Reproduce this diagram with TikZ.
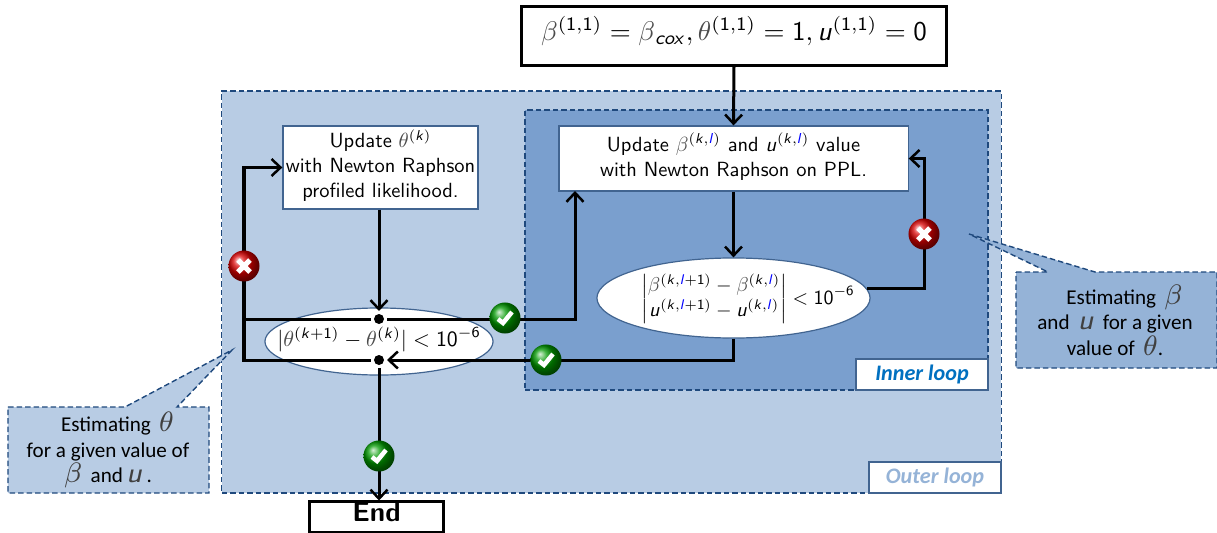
\documentclass[tikz,border=0pt]{standalone}
\usepackage{amsmath}
\usepackage{amssymb}
\usepackage{fontspec}
\usepackage{tikz}
\usetikzlibrary{arrows.meta,shapes.geometric}
\newfontfamily\cbfont{Carlito}
\DeclareMathAlphabet{\msf}{OT1}{cmss}{m}{n}
\DeclareMathAlphabet{\msl}{OT1}{cmss}{m}{sl}
\newcommand{\gbeta}{\textcolor{black!70}{\beta}}
\newcommand{\gtheta}{\textcolor{black!70}{\theta}}
\newcommand{\bl}{\textcolor{blue}{\msl{l}}}
\newcommand{\bigsym}[1]{{\fontsize{8}{8}\selectfont\textcolor{black!75}{$#1$}}}
\newcommand{\shrunk}[2][0.583]{\scalebox{#1}{\fontsize{10}{12.2}\selectfont\begin{tabular}{@{}c@{}}#2\end{tabular}}}
\definecolor{outerfill}{HTML}{B8CCE4}
\definecolor{innerfill}{HTML}{7A9FCE}
\definecolor{tailfill}{HTML}{95B3D7}
\definecolor{edgeblue}{HTML}{1F497D}
\definecolor{tagblue}{HTML}{0070C0}
\pgfdeclarelayer{front}
\pgfsetlayers{main,front}
\tikzset{
    flow/.style={line width=0.03cm},
    arrow/.style={flow,-{Straight Barb[length=0.09cm,width=0.17cm,line width=0.025cm]}},
    region/.style={draw=edgeblue,line width=0.014cm,dash pattern=on 0.055cm off 0.03cm},
    whitebox/.style={draw=edgeblue!85,fill=white,line width=0.012cm,inner sep=0pt,align=center,font=\sffamily},
    testoval/.style={draw=edgeblue!85,fill=white,line width=0.012cm,inner sep=0pt,ellipse},
    testtext/.style={inner sep=0pt,font=\sffamily},
    startbox/.style={draw=black,fill=white,line width=0.03cm,inner sep=0pt,align=center,font=\sffamily},
    tagbox/.style={whitebox,font=\cbfont\bfseries\itshape\fontsize{6.3}{7}\selectfont},
    cbtext/.style={align=center,inner sep=0pt,font=\cbfont\fontsize{6}{7.2}\selectfont},
    dotnode/.style={circle,fill=black,inner sep=0pt,minimum size=0.1cm,outer sep=0.03cm},
    okmark/.style={circle,inner sep=0pt,minimum size=0.31cm,ball color=green!60!black,
        path picture={\draw[white,line width=0.045cm]
            ([shift={(-7,1)}]path picture bounding box.center) --
            ([shift={(-2,5)}]path picture bounding box.center) --
            ([shift={(7,-6)}]path picture bounding box.center);}},
    nomark/.style={circle,inner sep=0pt,minimum size=0.31cm,ball color=red!85!black,
        path picture={\draw[white,line width=0.05cm]
            ([shift={(-6,-6)}]path picture bounding box.center) --
            ([shift={(6,6)}]path picture bounding box.center)
            ([shift={(-6,6)}]path picture bounding box.center) --
            ([shift={(6,-6)}]path picture bounding box.center);}},
}
\begin{document}
\begin{tikzpicture}[x=0.01cm,y=-0.01cm]
\useasboundingbox (0,0) rectangle (1217,533);

% loops
\node[region,fill=outerfill,minimum width=7.79cm,minimum height=4.02cm,inner sep=0pt] (outer) at (611.5,292) {};
\node[region,fill=innerfill,minimum width=4.63cm,minimum height=2.80cm,inner sep=0pt] (inner) at (756.5,250) {};
\node[tagbox,text=tagblue,minimum width=1.32cm,minimum height=0.31cm] (innertag) at (922,374.5) {Inner loop};
\node[tagbox,text=tailfill,minimum width=1.32cm,minimum height=0.31cm] (outertag) at (935,477.5) {Outer loop};

% callouts
\draw[region,fill=outerfill] (8,407) -- (125,407) -- (232,350) -- (177,407) -- (209,407) -- (209,493) -- (8,493) -- cycle;
\draw[region,fill=tailfill] (1016,272) -- (1048,272) -- (969,234) -- (1095,272) -- (1217,272) -- (1217,368) -- (1016,368) -- cycle;
\node[cbtext] (thetanote) at (108,450) {\hspace{0.9em}Estimating\, \bigsym{\theta}\\for a given value of\\\bigsym{\beta}\, and\,\bigsym{\msl{u}}\,.};
\node[cbtext] (betanote) at (1115,320) {\hspace{0.9em}Estimating\, \bigsym{\beta}\\and\, \bigsym{\msl{u}}\, for a given\\value of\, \bigsym{\theta}.};

% boxes
\node[startbox,minimum width=4.24cm,minimum height=0.59cm] (start) at (734,36)
    {\raisebox{-0.04cm}[0pt][0pt]{\shrunk[0.768]{$\gbeta^{(\msf{1,1})}=\gbeta_{\msl{cox}},\gtheta^{(\msf{1,1})}=\msf{1},\msl{u}^{(\msf{1,1})}=\msf{0}$}}};
\node[whitebox,minimum width=3.49cm,minimum height=0.65cm] (betabox) at (733.5,158.5)
    {\shrunk{Update $\gbeta^{(\msl{k},\bl)}$ and $\msl{u}^{(\msl{k},\bl)}$ value\\with Newton Raphson on PPL.}};
\node[whitebox,minimum width=1.95cm,minimum height=0.83cm] (thetabox) at (380.5,167.5)
    {\shrunk{Update $\gtheta^{(\msl{k})}$\\with Newton Raphson\\profiled likelihood.}};
\node[testoval,minimum width=2.73cm,minimum height=0.80cm] (betatest) at (733.5,298) {};
\node[testtext] (betatext) at (748,299)
    {\shrunk[0.57]{$\left|\begin{matrix}\gbeta^{(\msl{k},\bl+\msf{1})}-\gbeta^{(\msl{k},\bl)}\\ \msl{u}^{(\msl{k},\bl+\msf{1})}-\msl{u}^{(\msl{k},\bl)}\end{matrix}\right|<\msf{10}^{-\msf{6}}$}};
\node[testoval,minimum width=2.28cm,minimum height=0.67cm] (thetatest) at (379,341.5) {};
\node[testtext] (thetatext) at (379,341)
    {\shrunk[0.62]{$|\gtheta^{(\msl{k}+\msf{1})}-\gtheta^{(\msl{k})}|<\msf{10}^{-\msf{6}}$}};
\node[startbox,font=\sffamily\bfseries,minimum width=1.33cm,minimum height=0.30cm] (endbox) at (376.5,517) {\raisebox{-0.045cm}[0pt][0pt]{\shrunk[0.78]{End}}};

% dots and marks
\node[dotnode] (dota) at (379,319) {};
\node[dotnode] (dotb) at (379,360) {};
\begin{pgfonlayer}{front}
\node[okmark] (oka) at (505,318) {};
\node[okmark] (okb) at (546,360) {};
\node[okmark] (okc) at (379,456) {};
\node[nomark] (noa) at (244,266) {};
\node[nomark] (nob) at (924,234) {};
\end{pgfonlayer}
\coordinate (betain) at (575,191);

% connectors
\draw[arrow] (start.south) -- (betabox.north);
\draw[arrow] (betabox.south) -- (betatest.north);
\draw[arrow] (dota |- thetabox.south) -- (dota.north);
\draw[arrow] (betatest.4) -| (nob.center) |- (betabox.east);
\draw[arrow] (betatest.south) |- (dotb.east);
\draw[arrow] (dota.east) -| (betain);
\draw[flow] (dota.west) -- (dota -| noa);
\draw[arrow] (dotb.west) -| (noa.center) |- (thetabox.west);
\draw[arrow] (dotb.south) -- (dotb.south |- endbox.north);
\end{tikzpicture}
\end{document}
